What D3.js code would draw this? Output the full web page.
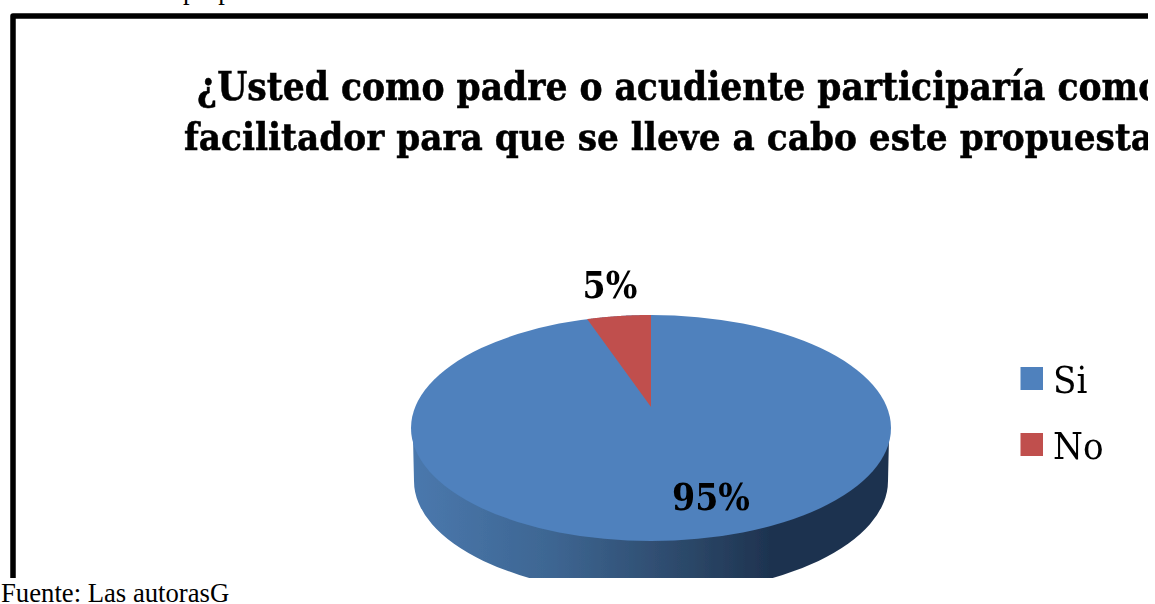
<!DOCTYPE html>
<html><head><meta charset="utf-8">
<script src="https://cdn.jsdelivr.net/npm/d3@7/dist/d3.min.js"></script>
<style>html,body{margin:0;padding:0;background:#fff}svg{display:block}</style></head>
<body><svg id="c" width="1155" height="604"></svg>
<script>
const categories=["Si","No"];
const values=[95,5];
const labels=["95%","5%"];
const colors=["#4f81bd","#c0504d"];
const titleLines=["¿Usted como padre o acudiente participaría como","facilitador para que se lleve a cabo este propuesta?"];
const serif="'DejaVu Serif Condensed','DejaVu Serif'";
const svg=d3.select("#c");
const defs=svg.append("defs");
const g=defs.append("linearGradient").attr("id","side");
[[0,"#4a78ad"],[.3,"#3d6591"],[.6,"#2a4565"],[.75,"#1e3350"],[1,"#1e3350"]].forEach(d=>g.append("stop").attr("offset",d[0]).attr("stop-color",d[1]));
defs.append("clipPath").attr("id","frame").append("rect").attr("x",0).attr("y",0).attr("width",1148).attr("height",578);
defs.append("filter").attr("id","soft").append("feGaussianBlur").attr("stdDeviation",0.45);
svg.append("text").attr("x",183).attr("y",-1).attr("font-family","Liberation Serif").attr("font-size",26.5).text("propuesta");
const root=svg.append("g").attr("clip-path","url(#frame)");
const inner=root.append("g").attr("filter","url(#soft)");
inner.append("path").attr("d","M13,590V16H1160").attr("fill","none").attr("stroke","#000").attr("stroke-width",5.5).attr("stroke-linejoin","round");
titleLines.forEach((t,i)=>inner.append("text").attr("x",i?184:197).attr("y",i?150:100).attr("font-family",serif).attr("font-weight","bold").attr("font-size",i?38.2:38.4).attr("fill","#000").attr("stroke","#000").attr("stroke-width",0.5).text(t));
const cx=651,cy=428,rx=240,ry=113,depth=53,rxBottom=237,apexLift=21,foreshorten=0.85;
inner.append("path").attr("d",`M${cx-rx+2},${cy+10}L${cx-rxBottom},${cy+depth}A${rxBottom},${ry} 0 0 0 ${cx+rxBottom},${cy+depth}L${cx+rx-2},${cy+10}Z`).attr("fill","url(#side)");
const pie=d3.pie().sort(null)(values);
const warp=a=>Math.atan2(foreshorten*Math.sin(a),Math.cos(a));
const arcPts=(a0,a1)=>{const p=[];for(let i=0;i<=160;i++){const a=a0+(a1-a0)*i/160,w=warp(a);p.push([cx+rx*Math.sin(w),cy-ry*Math.cos(w)]);}return p;};
inner.append("ellipse").attr("cx",cx).attr("cy",cy).attr("rx",rx).attr("ry",ry).attr("fill",colors[0]);
pie.forEach((d,i)=>{if(i===0)return;inner.append("path").attr("d",d3.line()([[cx,cy-apexLift],...arcPts(d.startAngle,d.endAngle)])+"Z").attr("fill",colors[i]);});
const lab=(t,x,y)=>inner.append("text").attr("x",x).attr("y",y).attr("text-anchor","middle").attr("font-family",serif).attr("font-weight","bold").attr("font-size",37).text(t);
lab(labels[0],711,510);lab(labels[1],610,298);
categories.forEach((c,i)=>{const y=i?444.5:378.5;
inner.append("rect").attr("x",1020.5).attr("y",y-11.5).attr("width",22.5).attr("height",23).attr("fill",colors[i]);
inner.append("text").attr("x",1053).attr("y",y+14).attr("font-family",serif).attr("font-size",38).text(c);});
svg.append("text").attr("x",1).attr("y",602).attr("font-family","Liberation Serif").attr("font-size",26.7).text("Fuente: Las autorasG");
</script></body></html>
